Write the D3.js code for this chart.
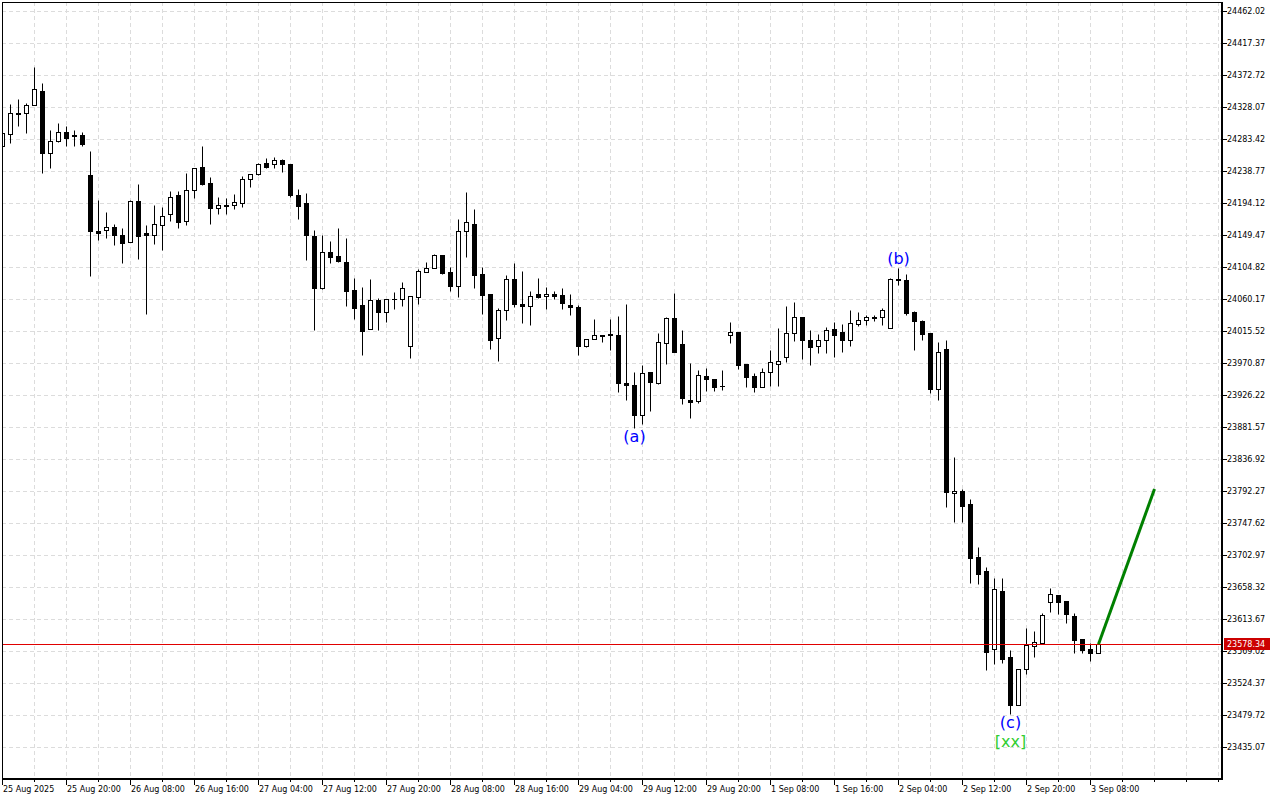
<!DOCTYPE html>
<html><head><meta charset="utf-8">
<script src="https://cdn.jsdelivr.net/npm/d3@7"></script>
<style>html,body{margin:0;padding:0;background:#fff;overflow:hidden}svg{display:block}</style>
</head><body><svg id="c" width="1280" height="800"></svg>
<script>
const opens = [24273.66,24289.98,24319.28,24319.28,24330.44,24350.40,24263.47,24280.21,24293.19,24288.31,
24288.59,24233.19,24155.06,24156.03,24160.64,24149.47,24140.13,24196.91,24151.57,24149.89,
24163.85,24179.19,24205.29,24168.31,24212.68,24244.35,24222.03,24187.57,24190.91,24190.91,
24193.70,24227.19,24234.17,24249.94,24248.12,24254.12,24248.54,24204.87,24194.12,24147.66,
24075.94,24125.75,24120.17,24111.80,24072.73,24051.80,24017.89,24058.78,24041.62,24060.18,
24059.76,23994.18,24062.54,24098.27,24103.01,24121.15,24097.43,24078.73,24155.47,24164.82,
24094.64,24067.15,24006.18,24044.41,24087.66,24053.20,24049.99,24066.73,24063.66,24066.73,
24065.34,24051.80,24048.59,23994.18,24003.94,24008.83,24011.76,24009.53,23943.39,23939.76,
23898.74,23957.90,23943.39,23998.36,24033.25,23996.97,23919.25,23917.43,23952.32,23948.13,
23938.78,24009.53,24014.13,23969.48,23952.32,23937.81,23957.90,23969.06,23979.67,24012.32,
24034.64,24002.97,23994.18,24002.55,24017.89,24013.71,24002.55,24024.87,24030.46,24034.64,
24034.64,24019.29,24087.66,24086.27,24042.04,24029.48,24012.74,23935.02,23990.41,23789.07,
23792.28,23774.14,23699.77,23680.65,23571.40,23652.75,23560.66,23493.26,23543.50,23576.01,
23580.61,23636.98,23647.17,23638.79,23618.28,23586.19,23571.82,23565.82];
const highs = [24294.59,24332.26,24339.24,24333.24,24384.30,24361.14,24295.98,24305.75,24301.56,24295.98,
24292.77,24267.10,24198.31,24181.57,24164.82,24159.66,24198.31,24220.63,24163.85,24191.33,
24188.96,24210.87,24210.87,24235.98,24242.54,24273.66,24229.98,24202.08,24201.10,24206.26,
24231.80,24234.17,24249.52,24256.91,24257.89,24255.10,24248.54,24213.24,24208.08,24156.45,
24149.06,24141.10,24159.24,24145.71,24089.48,24077.34,24088.08,24061.15,24060.18,24069.94,
24083.90,24063.94,24101.62,24111.80,24122.96,24121.15,24104.41,24171.38,24209.47,24185.33,
24104.41,24067.15,24048.03,24093.66,24110.41,24099.24,24070.92,24089.06,24076.50,24070.92,
24075.52,24067.15,24051.80,24003.94,24032.27,24009.53,24032.27,24036.46,24053.20,23957.90,
23967.67,23957.90,24012.32,24035.48,24068.13,24016.50,23970.46,23961.11,23963.48,23948.13,
23960.41,24028.08,24014.13,23969.48,23957.34,23964.32,23989.01,24019.71,24050.41,24055.57,
24034.64,24016.50,24011.34,24020.69,24028.08,24024.87,24044.41,24042.04,24037.43,24037.43,
24047.20,24089.06,24103.01,24095.06,24043.43,24030.87,24012.74,24000.60,24002.97,23840.14,
23795.07,23780.70,23714.56,23686.65,23670.47,23671.31,23570.42,23543.91,23601.54,23597.35,
23622.05,23657.35,23647.17,23638.79,23622.05,23586.19,23580.61,23578.34];
const lows = [24270.87,24278.26,24301.98,24292.21,24330.44,24236.40,24243.38,24278.82,24274.07,24274.07,
24274.07,24092.27,24142.50,24145.71,24135.52,24110.83,24140.13,24115.99,24039.25,24136.92,
24128.54,24169.01,24159.66,24163.43,24201.52,24219.66,24165.24,24179.19,24179.19,24186.17,
24188.96,24216.87,24233.19,24243.38,24243.38,24237.80,24202.91,24172.22,24114.17,24016.92,
24074.55,24109.99,24112.22,24050.82,24032.27,23982.46,24017.89,24016.92,24028.50,24046.64,
24050.82,23978.27,24053.20,24097.43,24103.01,24095.48,24071.75,24063.38,24119.20,24075.52,
24039.25,23990.41,23974.09,24031.29,24049.01,24026.69,24024.31,24061.99,24046.64,24059.76,
24046.64,24038.27,23982.46,23992.78,24003.94,24000.60,23989.01,23930.83,23919.67,23880.60,
23886.18,23904.32,23941.15,23969.06,23985.80,23913.25,23893.71,23915.48,23932.23,23932.23,
23933.20,23999.20,23962.08,23937.81,23930.83,23937.81,23939.20,23939.20,23971.85,24001.99,
23976.88,23968.50,23984.41,23985.25,23979.67,23985.80,23995.01,24022.50,24023.48,24029.90,
24024.31,24019.29,24080.13,24037.85,23989.01,24002.97,23928.60,23919.25,23769.95,23749.44,
23749.44,23664.33,23662.10,23542.52,23550.47,23551.87,23480.71,23493.26,23537.36,23561.08,
23580.61,23623.86,23620.23,23608.52,23566.66,23565.82,23555.50,23565.82];
const closes = [24291.80,24319.28,24318.31,24330.44,24352.77,24263.47,24280.63,24292.77,24285.24,24287.19,
24276.87,24155.47,24151.85,24160.64,24149.89,24138.73,24196.91,24148.50,24149.47,24164.82,
24175.99,24202.50,24167.61,24211.98,24242.54,24220.63,24187.57,24190.91,24190.50,24195.10,
24227.19,24234.17,24248.12,24244.77,24253.70,24248.12,24205.70,24189.52,24149.06,24075.94,
24125.34,24119.20,24113.62,24071.75,24048.03,24015.94,24058.78,24042.45,24060.18,24059.76,
24075.10,24063.94,24098.83,24103.01,24121.15,24096.87,24078.73,24155.06,24167.20,24094.08,
24066.17,24003.39,24044.83,24087.66,24053.61,24050.82,24064.78,24063.38,24066.45,24063.66,
24054.17,24049.01,23994.18,24003.94,24009.53,24009.53,24009.53,23943.39,23939.76,23898.74,
23956.50,23943.95,23999.76,24033.25,23986.65,23921.62,23916.88,23954.55,23948.97,23937.81,
23938.23,24014.13,23968.50,23950.92,23937.81,23957.90,23971.85,23973.25,24012.32,24034.64,
24002.55,23993.62,24002.97,24016.50,24009.53,24002.55,24026.27,24030.46,24034.64,24033.25,
24044.41,24087.66,24086.96,24040.64,24028.78,24011.76,23935.02,23986.22,23790.18,23792.28,
23771.77,23699.21,23676.89,23567.22,23655.12,23558.29,23493.68,23543.91,23576.98,23581.17,
23619.26,23648.14,23636.98,23620.23,23584.79,23570.42,23565.82,23578.34];

const timeLabels = ["25 Aug 2025","25 Aug 20:00","26 Aug 08:00","26 Aug 16:00","27 Aug 04:00","27 Aug 12:00",
"27 Aug 20:00","28 Aug 08:00","28 Aug 16:00","29 Aug 04:00","29 Aug 12:00","29 Aug 20:00",
"1 Sep 08:00","1 Sep 16:00","2 Sep 04:00","2 Sep 12:00","2 Sep 20:00","3 Sep 08:00"];
const timeLabelBars = [0,8,16,24,32,40,48,56,64,72,80,88,96,104,112,120,128,136];
const priceTicks = [24462.02,24417.37,24372.72,24328.07,24283.42,24238.77,24194.12,24149.47,24104.82,
24060.17,24015.52,23970.87,23926.22,23881.57,23836.92,23792.27,23747.62,23702.97,23658.32,23613.67,
23569.02,23524.37,23479.72,23435.07];
const currentPrice = 23578.34;
const waveLabels = ["(a)","(b)","(c)"];
const waveBars = [79,112,126];
const waveAbove = [false,true,false];
const degreeLabel = "[xx]";
const degreeBar = 126;
const projBars = [137,144];
const projPrices = [23578.34,23795.0];

const L = 2, T = 2, R = 1221, B = 779;
const svg = d3.select("#c");
const x = d3.scaleLinear().domain([0,152]).range([2.5,1218.5]);
const y = d3.scaleLinear().domain([23435.07,24462.02]).range([747,11]);
const font = "DejaVu Sans";

svg.append("rect").attr("width",1280).attr("height",800).attr("fill","#fff");
svg.append("clipPath").attr("id","clip").append("rect").attr("x",L).attr("y",T).attr("width",R-L).attr("height",B-T);
const g = svg.append("g").attr("clip-path","url(#clip)");

// grid
const gridCol = "#dcdcdc";
priceTicks.forEach(p=>{
  const yy = Math.round(y(p))+0.5;
  g.append("line").attr("x1",L).attr("x2",R).attr("y1",yy).attr("y2",yy)
   .attr("stroke",gridCol).attr("stroke-dasharray","4,3");
});
for(let i=0;i<=152;i+=4){
  const xx = x(i);
  g.append("line").attr("x1",xx).attr("x2",xx).attr("y1",T).attr("y2",B)
   .attr("stroke",gridCol).attr("stroke-dasharray","4,3");
}

// candles
const snap = v => Math.round(v)+0.5;
opens.forEach((o,i)=>{
  const c = closes[i], h = highs[i], l = lows[i];
  const cx = x(i);
  const yH = snap(y(h)), yL = snap(y(l));
  const yT = snap(y(Math.max(o,c))), yB = snap(y(Math.min(o,c)));
  g.append("line").attr("x1",cx).attr("x2",cx).attr("y1",yH).attr("y2",yL).attr("stroke","#000");
  if (yB - yT < 1) {
    g.append("line").attr("x1",cx-2.5).attr("x2",cx+2.5).attr("y1",yT).attr("y2",yT).attr("stroke","#000");
  } else {
    g.append("rect").attr("x",cx-2).attr("y",yT).attr("width",4).attr("height",yB-yT)
     .attr("fill", c>=o ? "#fff" : "#000").attr("stroke","#000");
  }
});

// current price line
const yp = snap(y(currentPrice));
g.append("line").attr("x1",L).attr("x2",R).attr("y1",yp).attr("y2",yp).attr("stroke","#e00000");

// projection
g.append("line").attr("x1",x(projBars[0])).attr("y1",y(projPrices[0]))
 .attr("x2",x(projBars[1])).attr("y2",y(projPrices[1]))
 .attr("stroke","#008000").attr("stroke-width",3);

// wave labels
waveLabels.forEach((t,k)=>{
  const b = waveBars[k];
  const yy = waveAbove[k] ? y(highs[b]) - 4 : y(lows[b]) + 14;
  svg.append("text").attr("x",x(b)).attr("y",yy).attr("text-anchor","middle")
   .attr("font-family",font).attr("font-size",16).attr("fill","#0000ff").text(t);
});
svg.append("text").attr("x",x(degreeBar)).attr("y",y(lows[degreeBar])+33).attr("text-anchor","middle")
 .attr("font-family",font).attr("font-size",16).attr("fill","#32cd32").text(degreeLabel);

// frame
svg.append("line").attr("x1",L).attr("x2",R).attr("y1",T+0.5).attr("y2",T+0.5).attr("stroke","#000");
svg.append("line").attr("x1",L+0.5).attr("x2",L+0.5).attr("y1",T).attr("y2",B).attr("stroke","#000");
svg.append("line").attr("x1",R+1).attr("x2",R+1).attr("y1",T).attr("y2",B+1).attr("stroke","#000").attr("stroke-width",2);
svg.append("line").attr("x1",L).attr("x2",R+2).attr("y1",B).attr("y2",B).attr("stroke","#000").attr("stroke-width",2);

// price axis
priceTicks.forEach(p=>{
  const yy = snap(y(p));
  svg.append("line").attr("x1",R+2).attr("x2",R+6).attr("y1",yy).attr("y2",yy).attr("stroke","#000");
  svg.append("text").attr("x",R+6).attr("y",yy).attr("dy","0.35em")
   .attr("font-family",font).attr("font-size",8).attr("fill","#000").text(p.toFixed(2));
});
svg.append("rect").attr("x",R+3).attr("y",yp-6.5).attr("width",46).attr("height",12).attr("fill","#cc0000");
svg.append("text").attr("x",R+6).attr("y",yp).attr("dy","0.35em")
 .attr("font-family",font).attr("font-size",8).attr("fill","#fff").text(currentPrice.toFixed(2));

// time axis
for(let i=0;i<=152;i+=4){
  const xx = x(i);
  svg.append("line").attr("x1",xx).attr("x2",xx).attr("y1",B).attr("y2",B+3).attr("stroke","#000");
}
timeLabels.forEach((t,k)=>{
  const xx = x(timeLabelBars[k]);
  svg.append("line").attr("x1",xx).attr("x2",xx).attr("y1",B).attr("y2",B+6).attr("stroke","#000");
  svg.append("text").attr("x",xx+0.5).attr("y",792)
   .attr("font-family",font).attr("font-size",8).attr("fill","#000").text(t);
});
</script></body></html>
